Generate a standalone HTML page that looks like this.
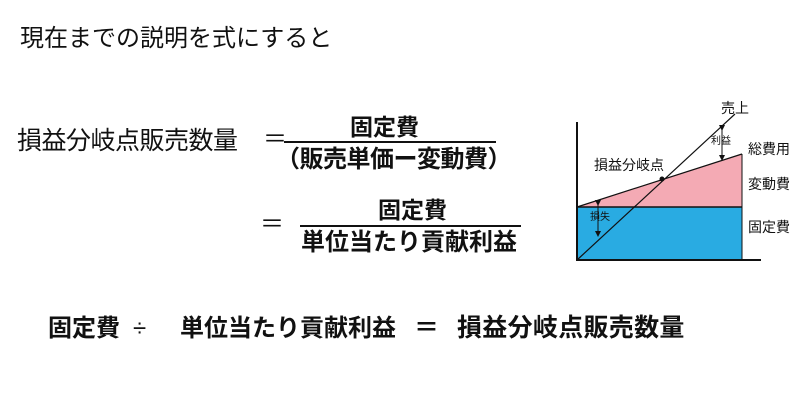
<!DOCTYPE html>
<html><head><meta charset="utf-8"><style>
body{margin:0;width:800px;height:400px;background:#fff;position:relative;overflow:hidden;font-family:"Liberation Sans","Noto Sans CJK JP",sans-serif;color:#111}
.t{position:absolute;white-space:nowrap;line-height:1}
.b{font-weight:bold}
</style></head><body>
<div class="t" style="left:20px;top:27px;font-size:24px">現在までの説明を式にすると</div>
<div class="t" style="left:17px;top:129px;font-size:25px;letter-spacing:-0.5px">損益分岐点販売数量</div>
<div class="t" style="left:263px;top:128px;font-size:24px">＝</div>
<div style="position:absolute;left:284px;top:141px;width:212px;height:2px;background:#111"></div>
<div class="t b" style="left:350px;top:116px;font-size:23px">固定費</div>
<div class="t b" style="left:276px;top:148px;font-size:24px;letter-spacing:-0.5px">（販売単価ー変動費）</div>
<div class="t" style="left:260px;top:213px;font-size:24px">＝</div>
<div style="position:absolute;left:300px;top:225px;width:221px;height:2px;background:#111"></div>
<div class="t b" style="left:378px;top:199px;font-size:23px">固定費</div>
<div class="t b" style="left:301px;top:231px;font-size:24px">単位当たり貢献利益</div>
<div class="t b" style="left:48px;top:317px;font-size:24px">固定費</div>
<div class="t" style="left:133px;top:317px;font-size:24px">÷</div>
<div class="t b" style="left:180px;top:317px;font-size:24px">単位当たり貢献利益</div>
<div class="t b" style="left:414px;top:316px;font-size:25px">＝</div>
<div class="t b" style="left:457px;top:316px;font-size:25px;letter-spacing:0.3px">損益分岐点販売数量</div>
<svg style="position:absolute;left:0;top:0" width="800" height="400">
<defs><marker id="a" markerWidth="6" markerHeight="6" refX="3" refY="3" orient="auto"><path d="M0,0L6,3L0,6z" fill="#111"/></marker></defs>
<rect x="577" y="207" width="165" height="53" fill="#29abe2"/>
<polygon points="577,207 742,154 742,207" fill="#f4aab4"/>
<line x1="577" y1="207" x2="742" y2="207" stroke="#111" stroke-width="1.5"/>
<line x1="577" y1="207" x2="742" y2="154" stroke="#111" stroke-width="1.2"/>
<line x1="742" y1="154" x2="742" y2="260" stroke="#111" stroke-width="1"/>
<line x1="577" y1="122" x2="577" y2="261" stroke="#111" stroke-width="2"/>
<line x1="576" y1="260" x2="761" y2="260" stroke="#111" stroke-width="2"/>
<line x1="577" y1="260" x2="735" y2="114" stroke="#111" stroke-width="1.2"/>
<circle cx="662" cy="179" r="2.5" fill="#111"/>
<line x1="722" y1="128" x2="722" y2="158" stroke="#111" marker-start="url(#a)" marker-end="url(#a)"/>
<line x1="598" y1="203" x2="598" y2="234" stroke="#111" marker-start="url(#a)" marker-end="url(#a)"/>
</svg>
<div class="t" style="left:721px;top:101px;font-size:14px">売上</div>
<div class="t" style="left:711px;top:137px;font-size:10px">利益</div>
<div class="t" style="left:748px;top:142px;font-size:14px">総費用</div>
<div class="t" style="left:748px;top:177px;font-size:14px">変動費</div>
<div class="t" style="left:748px;top:220px;font-size:14px">固定費</div>
<div class="t" style="left:594px;top:158px;font-size:14px">損益分岐点</div>
<div class="t" style="left:590px;top:213px;font-size:10px">損失</div>
</body></html>
